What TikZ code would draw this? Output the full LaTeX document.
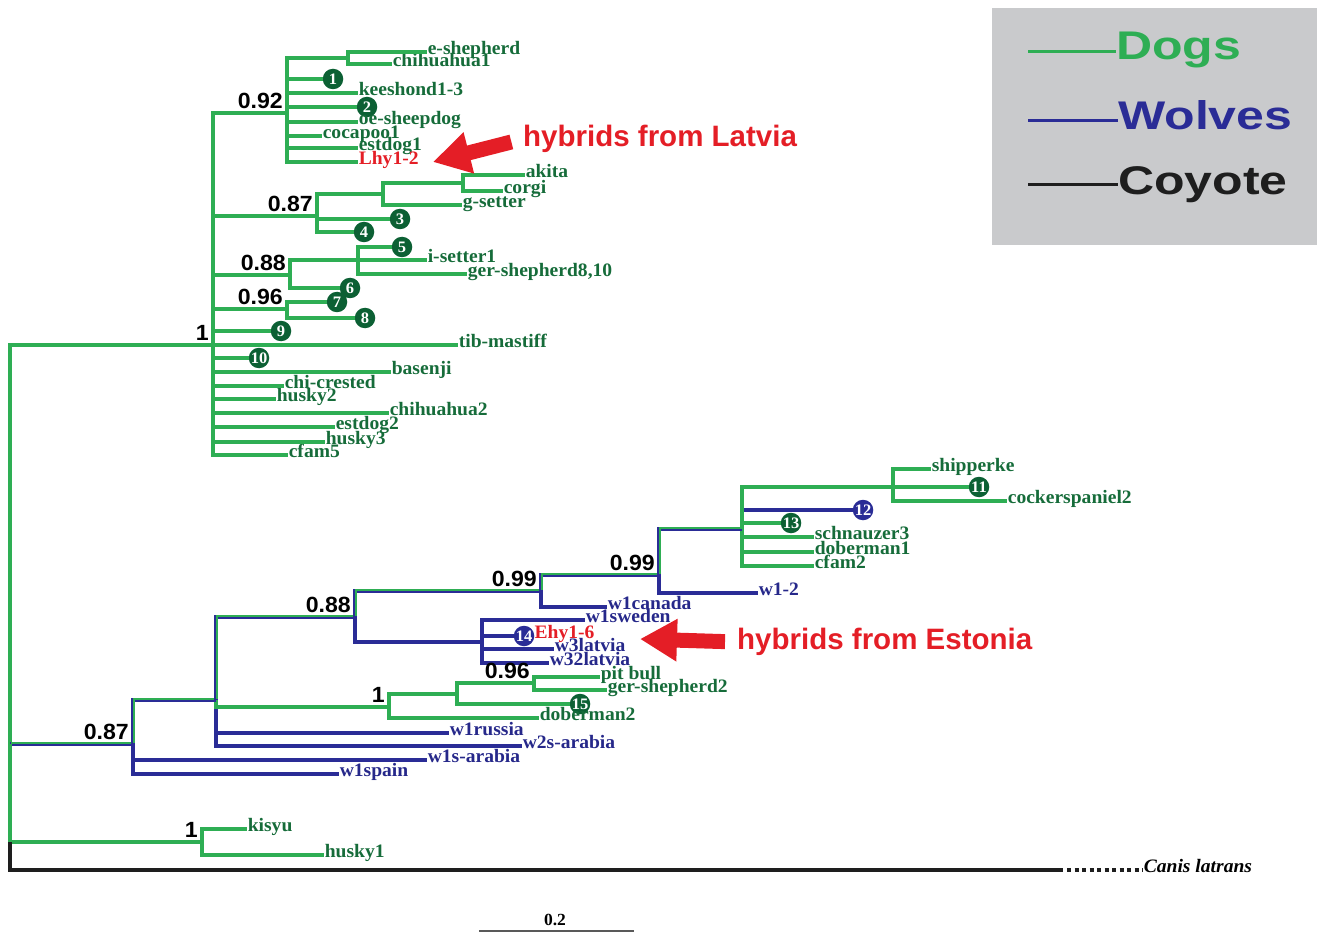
\documentclass[tikz,border=0pt]{standalone}
\usepackage{fontspec}
\setmainfont{Liberation Serif}
\newfontfamily\leaffont{Liberation Serif}[FakeStretch=1.03]
\newfontfamily\suppfont{Liberation Sans}[FakeStretch=1.05]
\newfontfamily\legfont{Liberation Sans}[FakeStretch=1.25]
\newfontfamily\hyfont{Liberation Sans}
\usetikzlibrary{arrows.meta}

\definecolor{dogline}{RGB}{46,174,84}
\definecolor{dogtext}{RGB}{22,108,58}
\definecolor{dogdot}{RGB}{12,96,52}
\definecolor{wolfline}{RGB}{42,44,150}
\definecolor{wolftext}{RGB}{38,40,138}
\definecolor{hyred}{RGB}{228,30,38}
\definecolor{leggray}{RGB}{201,202,204}
\definecolor{coyline}{RGB}{30,30,30}

\newcommand{\leafsize}{\leaffont\bfseries\fontsize{19}{19}\selectfont}
\newcommand{\canissize}{\leaffont\bfseries\itshape\fontsize{19}{19}\selectfont}
\newcommand{\dotsize}{\leaffont\bfseries\fontsize{16}{16}\selectfont}
\newcommand{\suppsize}{\suppfont\bfseries\fontsize{22}{22}\selectfont}
\newcommand{\legsize}{\legfont\bfseries\fontsize{40}{40}\selectfont}
\newcommand{\hysize}{\hyfont\bfseries\fontsize{29.5}{29.5}\selectfont}
\newcommand{\sbsize}{\leaffont\bfseries\fontsize{17}{17}\selectfont}

\begin{document}
\begin{tikzpicture}[x=1pt, y=-1pt,
    dog_edge/.style={draw=dogline, line width=3.4pt},
    wolf_edge/.style={draw=wolfline, line width=3.4pt},
    mix_edge/.style={draw=wolfline, line width=3.6pt,
        postaction={draw=dogline, line width=2.2pt, transform canvas={shift={(1pt,1pt)}}}},
    coy_edge/.style={draw=coyline, line width=4pt},
    coy_dots/.style={draw=coyline, line width=3.4pt, dash pattern=on 4pt off 3.5pt, shorten <=4pt},
    leaf_dog/.style={anchor=west, inner sep=0.6pt, text height=0.6em, text depth=0.1em, text=dogtext, font=\leafsize},
    leaf_wolf/.style={leaf_dog, text=wolftext},
    leaf_red/.style={leaf_dog, text=hyred},
    dot_dog/.style={circle, fill=dogdot, text=white, inner sep=0pt, minimum size=20.5pt, font=\dotsize},
    dot_wolf/.style={dot_dog, fill=wolfline},
    supp/.style={anchor=south east, inner sep=0pt, xshift=-4pt, yshift=4pt, text depth=0pt, font=\suppsize},
    hy_text/.style={anchor=west, inner sep=0pt, text=hyred, font=\hysize},
    hy_arrow/.style={draw=hyred, line width=15pt, -{Triangle[length=37pt, width=40pt]}, shorten <=12pt},
    leg_text/.style={anchor=west, inner sep=0pt, text height=0.72em, text depth=0pt, font=\legsize}
]
\useasboundingbox (0,0) rectangle (1317,933);

% Legende
\fill[leggray] (992,8) rectangle (1317,245);
\coordinate (legA) at (1028,52);
\coordinate (legB) at (1028,121);
\coordinate (legC) at (1028,185);
\node[leg_text, text=dogline] (legDog) at (1116,56) {Dogs};
\node[leg_text, text=wolfline] (legWolf) at (1118,126) {Wolves};
\node[leg_text, text=coyline] (legCoy) at (1118,191) {Coyote};
\draw[dog_edge, line width=3pt] (legA) -- (legA -| legDog.west);
\draw[wolf_edge, line width=3pt] (legB) -- (legB -| legWolf.west);
\draw[coy_edge, line width=3pt] (legC) -- (legC -| legCoy.west);

% Racine
\coordinate (root) at (10,744);
\coordinate (rbase) at (10,842);

% Chiens (groupe du haut)
\coordinate (n1) at (213,345);
\coordinate (n092) at (287,113);
\coordinate (nES) at (348,58);
\node[leaf_dog] (eshep) at (427,52) {e-shepherd};
\node[leaf_dog] (chihua1) at (392,64) {chihuahua1};
\node[dot_dog] (c1) at (333,79) {1};
\node[leaf_dog] (keesh) at (358,93) {keeshond1-3};
\node[dot_dog] (c2) at (367,107) {2};
\node[leaf_dog] (oesheep) at (358,122) {oe-sheepdog};
\node[leaf_dog] (cocapoo) at (322,136) {cocapoo1};
\node[leaf_dog] (estdog1) at (358,148) {estdog1};
\node[leaf_red] (lhy) at (358,162) {Lhy1-2};

\coordinate (n087t) at (317,216);
\coordinate (nAk) at (383,194);
\coordinate (nAC) at (463,183);
\node[leaf_dog] (akita) at (525,175) {akita};
\node[leaf_dog] (corgi) at (503,191) {corgi};
\node[leaf_dog] (gsetter) at (462,205) {g-setter};
\node[dot_dog] (c3) at (400,219) {3};
\node[dot_dog] (c4) at (364,232) {4};

\coordinate (n088t) at (290,275);
\coordinate (nIS) at (358,260);
\node[dot_dog] (c5) at (402,247) {5};
\node[leaf_dog] (isetter) at (427,260) {i-setter1};
\node[leaf_dog] (gershep8) at (467,274) {ger-shepherd8,10};
\node[dot_dog] (c6) at (350,288) {6};

\coordinate (n096t) at (287,309);
\node[dot_dog] (c7) at (337,302) {7};
\node[dot_dog] (c8) at (365,318) {8};
\node[dot_dog] (c9) at (281,331) {9};
\node[leaf_dog] (tib) at (458,345) {tib-mastiff};
\node[dot_dog] (c10) at (259,358) {10};
\node[leaf_dog] (basenji) at (391,372) {basenji};
\node[leaf_dog] (chicrest) at (284,386) {chi-crested};
\node[leaf_dog] (husky2) at (276,399) {husky2};
\node[leaf_dog] (chihua2) at (389,413) {chihuahua2};
\node[leaf_dog] (estdog2) at (335,427) {estdog2};
\node[leaf_dog] (husky3) at (325,442) {husky3};
\node[leaf_dog] (cfam5) at (288,455) {cfam5};

\draw[dog_edge] (root) |- (n1);
\foreach \c in {n092,n087t,n088t,n096t,c9,tib,c10,basenji,chicrest,husky2,chihua2,estdog2,husky3,cfam5}
    \draw[dog_edge] (n1) |- (\c);
\foreach \c in {nES,c1,keesh,c2,oesheep,cocapoo,estdog1,lhy}
    \draw[dog_edge] (n092) |- (\c);
\foreach \c in {eshep,chihua1} \draw[dog_edge] (nES) |- (\c);
\foreach \c in {nAk,c3,c4} \draw[dog_edge] (n087t) |- (\c);
\foreach \c in {nAC,gsetter} \draw[dog_edge] (nAk) |- (\c);
\foreach \c in {akita,corgi} \draw[dog_edge] (nAC) |- (\c);
\foreach \c in {nIS,c6} \draw[dog_edge] (n088t) |- (\c);
\foreach \c in {c5,isetter,gershep8} \draw[dog_edge] (nIS) |- (\c);
\foreach \c in {c7,c8} \draw[dog_edge] (n096t) |- (\c);

% Loups et chiens (groupe du bas)
\coordinate (n087) at (133,744);
\coordinate (n216) at (216,700);
\coordinate (n088) at (355,617);
\coordinate (n099a) at (541,591);
\coordinate (n099b) at (659,575);
\coordinate (nDog) at (742,529);
\coordinate (nShip) at (893,487);
\node[leaf_dog] (shipp) at (931,469) {shipperke};
\node[dot_dog] (c11) at (979,487) {11};
\node[leaf_dog] (cocker) at (1007,501) {cockerspaniel2};
\node[dot_wolf] (c12) at (863,510) {12};
\node[dot_dog] (c13) at (791,523) {13};
\node[leaf_dog] (schn) at (814,537) {schnauzer3};
\node[leaf_dog] (dober1) at (814,552) {doberman1};
\node[leaf_dog] (cfam2) at (814,566) {cfam2};
\node[leaf_wolf] (w12) at (758,593) {w1-2};
\node[leaf_wolf] (w1can) at (607,607) {w1canada};
\coordinate (nEhy) at (482,642);
\node[leaf_wolf] (w1swe) at (585,620) {w1sweden};
\node[dot_wolf] (c14) at (524,636) {14};
\node[leaf_red, inner sep=0pt] (ehy) at (c14.east) {Ehy1-6};
\node[leaf_wolf] (w3lat) at (554,649) {w3latvia};
\node[leaf_wolf] (w32lat) at (549,663) {w32latvia};
\coordinate (nA1) at (389,707);
\coordinate (nA2) at (457,694);
\coordinate (nA3) at (534,683);
\node[leaf_dog] (pitbull) at (600,677) {pit bull};
\node[leaf_dog] (gershep2) at (607,690) {ger-shepherd2};
\node[dot_dog] (c15) at (580,704) {15};
\node[leaf_dog] (dober2) at (539,718) {doberman2};
\node[leaf_wolf] (w1rus) at (449,733) {w1russia};
\node[leaf_wolf] (w2sar) at (522,746) {w2s-arabia};
\node[leaf_wolf] (w1sar) at (427,760) {w1s-arabia};
\node[leaf_wolf] (w1spa) at (339,774) {w1spain};

\foreach \c in {w1sar,w1spa} \draw[wolf_edge] (n087) |- (\c);
\foreach \c in {w1rus,w2sar} \draw[wolf_edge] (n216) |- (\c);
\draw[wolf_edge] (n088) |- (nEhy);
\draw[wolf_edge] (n099a) |- (w1can);
\draw[wolf_edge] (n099b) |- (w12);
\draw[wolf_edge] (nDog) |- (c12);
\foreach \c in {w1swe,c14,w3lat,w32lat} \draw[wolf_edge] (nEhy) |- (\c);
\foreach \c in {nShip,c13,schn,dober1,cfam2} \draw[dog_edge] (nDog) |- (\c);
\foreach \c in {shipp,c11,cocker} \draw[dog_edge] (nShip) |- (\c);
\draw[dog_edge] (n216) |- (nA1);
\foreach \c in {nA2,dober2} \draw[dog_edge] (nA1) |- (\c);
\foreach \c in {nA3,c15} \draw[dog_edge] (nA2) |- (\c);
\foreach \c in {pitbull,gershep2} \draw[dog_edge] (nA3) |- (\c);
\draw[mix_edge] (root) -- (n087);
\draw[mix_edge] (n087) |- (n216);
\draw[mix_edge] (n216) |- (n088);
\draw[mix_edge] (n088) |- (n099a);
\draw[mix_edge] (n099a) |- (n099b);
\draw[mix_edge] (n099b) |- (nDog);

% kisyu, husky1 et coyote
\coordinate (nK) at (202,842);
\node[leaf_dog] (kisyu) at (247,829) {kisyu};
\node[leaf_dog] (husky1) at (324,855) {husky1};
\draw[dog_edge] (root) |- (nK);
\foreach \c in {kisyu,husky1} \draw[dog_edge] (nK) |- (\c);
\coordinate (coyend) at (1063,870);
\node[leaf_dog, text=black, font=\canissize] (canis) at (1143,870) {Canis latrans};
\draw[coy_edge] (rbase) |- (coyend);
\draw[coy_dots] (coyend) -- (canis);

% Valeurs de support
\node[supp] (s1) at (n1) {1};
\node[supp] (s092) at (n092) {0.92};
\node[supp] (s087t) at (n087t) {0.87};
\node[supp] (s088t) at (n088t) {0.88};
\node[supp] (s096t) at (n096t) {0.96};
\node[supp] (s087) at (n087) {0.87};
\node[supp] (s088) at (n088) {0.88};
\node[supp] (s099a) at (n099a) {0.99};
\node[supp] (s099b) at (n099b) {0.99};
\node[supp] (sA1) at (nA1) {1};
\node[supp] (sA3) at (nA3) {0.96};
\node[supp] (sK) at (nK) {1};

% Hybrides
\node[hy_text] (hybL) at (523,139) {hybrids from Latvia};
\coordinate (latTip) at (433,162);
\draw[hy_arrow] (hybL.west) -- (latTip);
\node[hy_text] (hybE) at (737,642) {hybrids from Estonia};
\coordinate (estTip) at (640,639);
\draw[hy_arrow] (hybE.west) -- (estTip);

% Echelle
\coordinate (sbL) at (479,931);
\coordinate (sbR) at (634,931);
\draw[draw=gray!70!black, line width=1.5pt] (sbL) -- (sbR);
\node[font=\sbsize, inner sep=0pt] (sbLab) at (555,920) {0.2};
\end{tikzpicture}
\end{document}
